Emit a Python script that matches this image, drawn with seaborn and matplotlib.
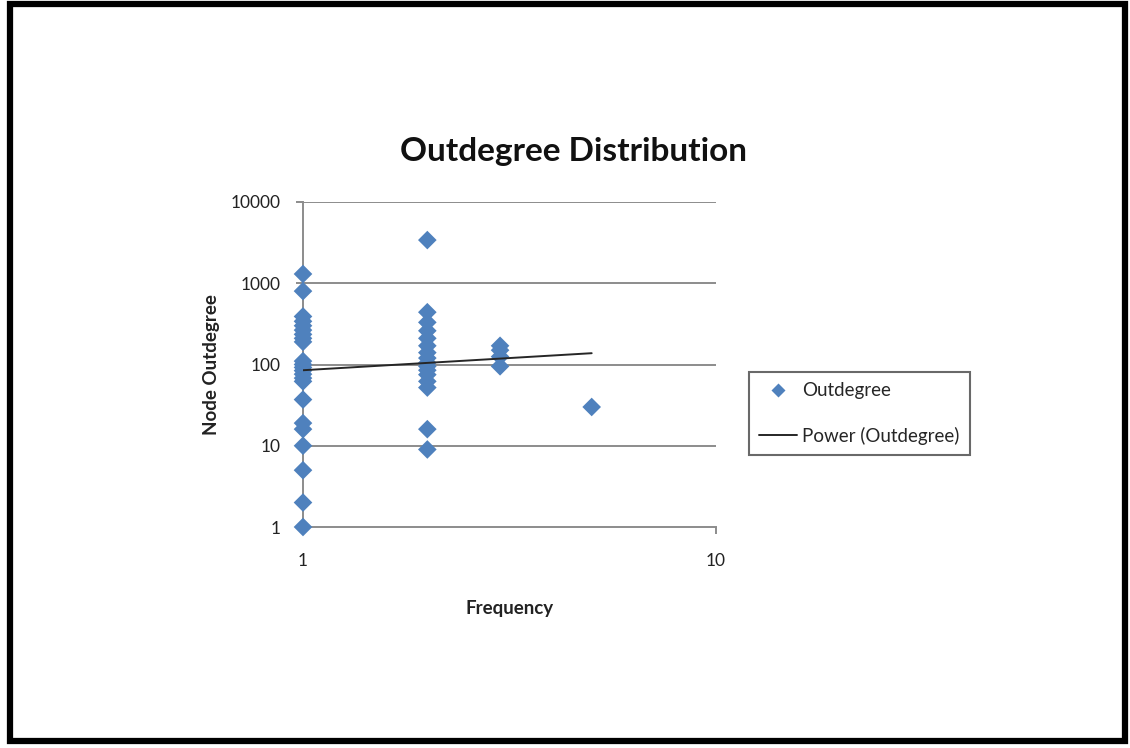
import numpy as np
import pandas as pd
import matplotlib
matplotlib.use("Agg")
import matplotlib.pyplot as plt
from matplotlib.lines import Line2D
from matplotlib.patches import Rectangle
import seaborn as sns

# ---- data ----
freq_1 = [1300, 800, 390, 340, 300, 265, 235, 210, 190, 110, 100, 92, 84, 76, 68, 62,
          37, 19, 16, 10, 5, 2, 1]
freq_2 = [3400, 440, 330, 260, 210, 170, 140, 120, 105, 95, 85, 75, 62, 52, 16, 9]
freq_3 = [170, 150, 125, 95]
freq_5 = [30]
power_a = 85.0      # trend-line coefficient (Excel power fit)
power_b = 0.30      # trend-line exponent
trend_x_range = [1, 5]

title = "Outdegree Distribution"
x_label = "Frequency"
y_label = "Node Outdegree"
y_ticks = [1, 10, 100, 1000, 10000]
x_ticks = [1, 10]

freqs = [1] * len(freq_1) + [2] * len(freq_2) + [3] * len(freq_3) + [5] * len(freq_5)
outdeg = freq_1 + freq_2 + freq_3 + freq_5
df = pd.DataFrame({"Frequency": freqs, "Outdegree": outdeg})

sns.set_theme(style="white")
plt.rcParams['font.family'] = ['Lato', 'DejaVu Sans']

W, H = 1130, 748
fig = plt.figure(figsize=(W / 100, H / 100), dpi=100)
ax = fig.add_axes([303 / W, 1 - 527 / H, (716 - 303) / W, (527 - 202) / H])

blue = "#4F81BD"
grid_c = "#8C8C8C"

ax.set_xscale("log")
ax.set_yscale("log")
ax.set_xlim(1, 10)
ax.set_ylim(1, 10000)

for yt in y_ticks[1:]:
    ax.axhline(yt, color=grid_c, lw=1.4, zorder=0)

sns.scatterplot(data=df, x="Frequency", y="Outdegree", marker="D", s=90,
                color=blue, edgecolor="none", linewidth=0, ax=ax, clip_on=False,
                zorder=3, legend=False)

tx = np.linspace(trend_x_range[0], trend_x_range[1], 50)
sns.lineplot(x=tx, y=power_a * tx ** power_b, color="#262626", lw=1.4, ax=ax,
             zorder=4, legend=False)

ax.set_xticks(x_ticks)
ax.set_xticklabels([str(v) for v in x_ticks])
ax.set_yticks(y_ticks)
ax.set_yticklabels([str(v) for v in y_ticks])
ax.minorticks_off()
ax.tick_params(axis="both", which="major", direction="out", length=5, width=1.4,
               color=grid_c, labelsize=12.5, labelcolor="#222222", bottom=True, left=True)
ax.tick_params(axis="x", pad=14)
ax.tick_params(axis="y", pad=11)

for side in ["top", "right"]:
    ax.spines[side].set_visible(False)
for side in ["left", "bottom"]:
    ax.spines[side].set_color(grid_c)
    ax.spines[side].set_linewidth(1.4)

ax.set_xlabel(x_label, fontsize=13.5, fontweight="bold", color="#222222", labelpad=22)
ax.set_ylabel(y_label, fontsize=13.5, fontweight="bold", color="#222222", labelpad=8)

fig.text(573 / W, 1 - 151 / H, title, ha="center", va="center", fontsize=24,
         fontweight="bold", color="#111111")

handles = [
    Line2D([0], [0], marker="D", color="none", markerfacecolor=blue,
           markeredgecolor="none", markersize=7.5, label="Outdegree"),
    Line2D([0], [0], color="#262626", lw=1.4, label="Power (Outdegree)"),
]
leg = fig.legend(handles=handles, loc="upper left",
                 bbox_to_anchor=(749 / W, 1 - 372 / H), bbox_transform=fig.transFigure,
                 frameon=True, fancybox=False, fontsize=13.5, handlelength=2.0,
                 borderpad=0.55, labelspacing=1.45, handletextpad=0.3,
                 borderaxespad=0)
leg.get_frame().set_edgecolor("#444444")
leg.get_frame().set_linewidth(1.5)

fig.patches.append(Rectangle((10 / W, 7 / H), (1125 - 10) / W, (744 - 7) / H,
                             transform=fig.transFigure, fill=False,
                             edgecolor="black", lw=4.5, zorder=10))

fig.savefig("out.png", dpi=100, facecolor="white")
